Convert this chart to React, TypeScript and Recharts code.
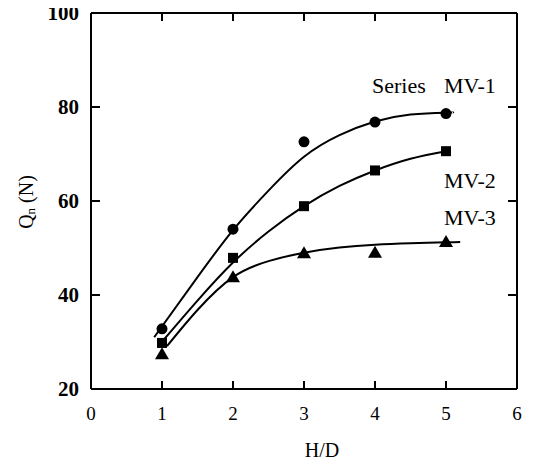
import React from "react"
import { ComposedChart, Line, Scatter, XAxis, YAxis } from "recharts"

// measured points
const hd = [1, 2, 3, 4, 5]
const mv1 = [32.8, 54, 72.6, 76.8, 78.6]
const mv2 = [29.8, 47.9, 58.9, 66.5, 70.6]
const mv3 = [27.4, 43.8, 48.9, 49.0, 51.3]

// fitted curves
const fit1X = [0.89, 1.5, 2, 2.5, 3, 3.5, 4, 4.5, 5, 5.1]
const fit1Y = [31, 43.8, 53.8, 62.2, 69.4, 74, 76.9, 78.4, 78.8, 78.8]
const fit2X = [1.02, 1.5, 2, 2.5, 3, 3.5, 4, 4.5, 5]
const fit2Y = [30.4, 38.8, 46.9, 53.5, 58.9, 63.2, 66.5, 69, 70.6]
const fit3X = [1.07, 1.5, 2, 2.5, 3, 3.5, 4, 4.5, 5, 5.2]
const fit3Y = [29.1, 36.8, 43.8, 47.2, 49, 50.1, 50.7, 51, 51.2, 51.3]

const xTicks = [0, 1, 2, 3, 4, 5, 6]
const yTicks = [20, 40, 60, 80, 100]

const pts = (ys: number[]) => hd.map((x, i) => ({ x, y: ys[i] }))
const curve = (xs: number[], ys: number[]) => xs.map((x, i) => ({ x, y: ys[i] }))

const font = "'Liberation Serif', serif"

const BottomTick = (p: any) => {
  const v = p.payload.value
  return (
    <g>
      {v > 0 && v < 6 && <line x1={p.x} x2={p.x} y1={p.y} y2={p.y - 8} stroke="#000" strokeWidth={2} />}
      <text x={p.x} y={p.y + 24} textAnchor="middle" dominantBaseline="central" fontSize={19} fontFamily={font} fill="#000">
        {v}
      </text>
    </g>
  )
}

const TopTick = (p: any) => {
  const v = p.payload.value
  if (v <= 0 || v >= 6) return <g />
  return <line x1={p.x} x2={p.x} y1={p.y} y2={p.y + 8} stroke="#000" strokeWidth={2} />
}

const LeftTick = (p: any) => {
  const v = p.payload.value
  return (
    <g>
      {v > 20 && v < 100 && <line x1={p.x} x2={p.x + 9} y1={p.y} y2={p.y} stroke="#000" strokeWidth={2} />}
      <text x={p.x - 12} y={p.y} textAnchor="end" dominantBaseline="central" fontSize={21} fontWeight="bold" fontFamily={font} fill="#000">
        {v}
      </text>
    </g>
  )
}

const RightTick = (p: any) => {
  const v = p.payload.value
  if (v <= 20 || v >= 100) return <g />
  return <line x1={p.x} x2={p.x - 9} y1={p.y} y2={p.y} stroke="#000" strokeWidth={2} />
}

const Dot = (p: any) => <circle cx={p.cx} cy={p.cy} r={5.5} fill="#000" />
const Sq = (p: any) => <rect x={p.cx - 5} y={p.cy - 5} width={10} height={10} fill="#000" />
const Tri = (p: any) => (
  <polygon points={`${p.cx},${p.cy - 7} ${p.cx - 7},${p.cy + 5} ${p.cx + 7},${p.cy + 5}`} fill="#000" />
)

const axisLine = { stroke: "#000", strokeWidth: 2 }

export default function App() {
  return (
    <div style={{ position: "relative", width: 535, height: 467, margin: -8, background: "#fff" }}>
      <ComposedChart width={535} height={467} margin={{ top: 12, right: 17, bottom: 0, left: 0 }}>
        <XAxis
          xAxisId="b"
          dataKey="x"
          type="number"
          domain={[0, 6]}
          ticks={xTicks}
          allowDataOverflow
          height={78}
          tickSize={0}
          tickMargin={0}
          tickLine={false}
          tick={BottomTick}
          axisLine={axisLine}
        />
        <XAxis
          xAxisId="t"
          orientation="top"
          dataKey="x"
          type="number"
          domain={[0, 6]}
          ticks={xTicks}
          allowDataOverflow
          height={1}
          tickSize={0}
          tickMargin={0}
          tickLine={false}
          tick={TopTick}
          axisLine={axisLine}
        />
        <YAxis
          yAxisId="l"
          type="number"
          domain={[20, 100]}
          ticks={yTicks}
          allowDataOverflow
          width={91}
          tickSize={0}
          tickMargin={0}
          tickLine={false}
          tick={LeftTick}
          axisLine={axisLine}
        />
        <YAxis
          yAxisId="r"
          orientation="right"
          type="number"
          domain={[20, 100]}
          ticks={yTicks}
          allowDataOverflow
          width={1}
          tickSize={0}
          tickMargin={0}
          tickLine={false}
          tick={RightTick}
          axisLine={axisLine}
        />
        <Line xAxisId="b" yAxisId="l" data={curve(fit1X, fit1Y)} dataKey="y" type="natural" stroke="#000" strokeWidth={2} dot={false} isAnimationActive={false} />
        <Line xAxisId="b" yAxisId="l" data={curve(fit2X, fit2Y)} dataKey="y" type="natural" stroke="#000" strokeWidth={2} dot={false} isAnimationActive={false} />
        <Line xAxisId="t" yAxisId="r" data={curve(fit3X, fit3Y)} dataKey="y" type="natural" stroke="#000" strokeWidth={2} dot={false} isAnimationActive={false} />
        <Scatter xAxisId="b" yAxisId="l" data={pts(mv1)} dataKey="y" shape={Dot} isAnimationActive={false} />
        <Scatter xAxisId="b" yAxisId="l" data={pts(mv2)} dataKey="y" shape={Sq} isAnimationActive={false} />
        <Scatter xAxisId="t" yAxisId="r" data={pts(mv3)} dataKey="y" shape={Tri} isAnimationActive={false} />
      </ComposedChart>
      <svg width={535} height={467} style={{ position: "absolute", left: 0, top: 0, pointerEvents: "none" }}>
        <g fontFamily={font} fontSize={22} fill="#000">
          <text x={372} y={85} dominantBaseline="central">Series</text>
          <text x={444} y={85} dominantBaseline="central">MV-1</text>
          <text x={444} y={180} dominantBaseline="central">MV-2</text>
          <text x={444} y={217} dominantBaseline="central">MV-3</text>
          <text x={322} y={450} textAnchor="middle" dominantBaseline="central" fontSize={20}>H/D</text>
          <text transform="translate(26,202) rotate(-90)" textAnchor="middle" dominantBaseline="central" fontSize={20}>
            Q<tspan fontSize={13} dy={4}>n</tspan>
            <tspan dy={-4}>{"  (N)"}</tspan>
          </text>
        </g>
      </svg>
    </div>
  )
}
